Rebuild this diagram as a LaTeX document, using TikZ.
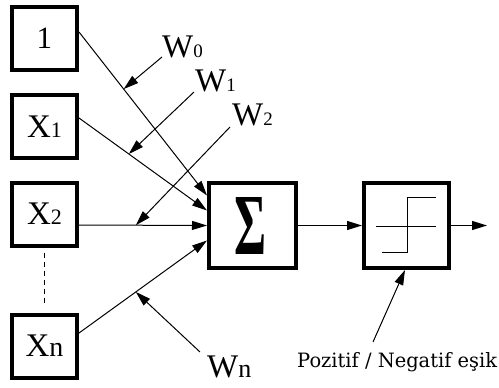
\documentclass[tikz,border=0pt]{standalone}
\usepackage{fontspec}
\setmainfont{Liberation Serif}
\newfontfamily\thfont{DejaVu Serif}
\usetikzlibrary{arrows.meta}
\newcommand{\bigf}{\fontsize{33}{33}\selectfont}
\newcommand{\subf}{\fontsize{22}{22}\selectfont}
\newcommand{\wsubf}{\fontsize{19}{19}\selectfont}
\begin{document}
\begin{tikzpicture}[x=1pt,y=-1pt,
  inbox/.style={draw,line width=4pt,minimum width=65pt,minimum height=63pt,inner sep=0pt},
  blk/.style={draw,line width=4pt,minimum width=87pt,minimum height=85pt,inner sep=0pt},
  conn/.style={line width=1pt,-{Triangle[length=15pt,width=9pt]}},
  thin/.style={line width=1pt},
  lbl/.style={inner sep=0pt,anchor=base west}]
\useasboundingbox (0,0) rectangle (499,388);
% input boxes
\node[inbox] (b1) at (44.5,38.5) {\fontsize{31}{31}\selectfont 1};
\node[inbox] (x1) at (44.5,126.5) {\bigf X\subf 1};
\node[inbox] (x2) at (44.5,214) {\bigf X\subf 2};
\node[inbox] (xn) at (44.5,346) {\bigf X\fontsize{28}{28}\selectfont n};
% blocks
\node[blk] (s) at (252.5,225.5) {};
\node[inner sep=0pt] (sig) at (251,225.5) {\resizebox{32pt}{57pt}{\bfseries Σ}};
\node[blk,minimum width=85pt] (st) at (406.5,225.5) {};
% dashed
\draw[thin,dash pattern=on 5pt off 4pt] ([yshift=-5pt]x2.south) -- ([yshift=7pt]xn.north);
% inputs
\draw[conn] ([yshift=6.5pt]b1.east) -- ([yshift=30pt]s.west) coordinate[pos=0.349] (p0);
\draw[conn] ([yshift=8.5pt]x1.east) -- ([yshift=15pt]s.west) coordinate[pos=0.389] (p1);
\draw[conn] ([yshift=-11pt]x2.east) -- (s.west) coordinate[pos=0.444] (p2);
\draw[conn] ([yshift=13pt]xn.east) -- ([yshift=-15pt]s.west) coordinate[pos=0.444] (pn);
% weight labels
\node[lbl] (w0) at (162,57) {\bigf W\wsubf 0};
\node[lbl] (w1) at (195,92) {\bigf W\wsubf 1};
\node[lbl] (w2) at (232,125) {\bigf W\wsubf 2};
\node[lbl] (wn) at (207,377) {\bigf W\fontsize{26}{26}\selectfont n};
\coordinate (c0) at (162,57);
\coordinate (c1) at (194,92);
\coordinate (c2) at (230,127);
\coordinate (cn) at (200,352);
\draw[conn] (c0) -- (p0);
\draw[conn] (c1) -- (p1);
\draw[conn] (c2) -- (p2);
\draw[conn] (cn) -- (pn);
% sigma to step, output
\draw[conn] (s.east) -- (st.west);
\coordinate (out) at (487,225.5);
\draw[conn] (st.east) -- (out);
% step function
\draw[thin] (376,226) -- (436,226);
\draw[thin] (382,252) -- (407,252) -- (407,197) -- (436,197);
% threshold
\node[lbl] (th) at (297,367) {\resizebox{200pt}{15pt}{\thfont\fontsize{18}{18}\selectfont Pozitif / Negatif eşik}};
\coordinate (ct) at (373,342);
\draw[conn] (ct) -- ([xshift=-1.5pt]st.south);
\end{tikzpicture}
\end{document}
